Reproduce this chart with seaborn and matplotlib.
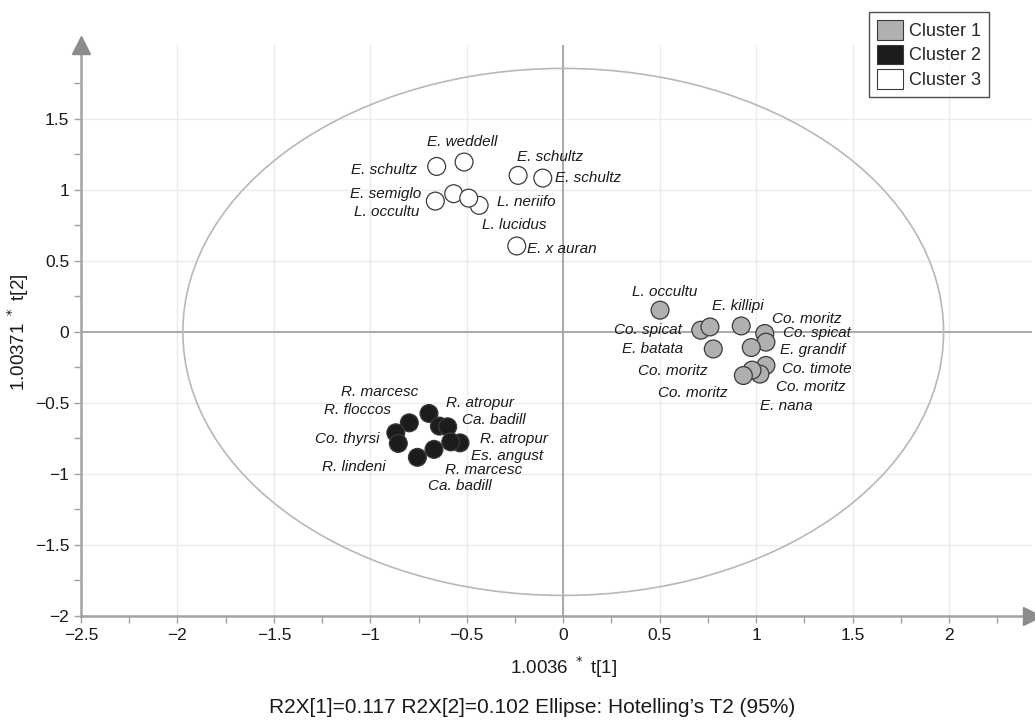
import numpy as np
import pandas as pd
import matplotlib
matplotlib.use("Agg")
import matplotlib.pyplot as plt
import seaborn as sns
from matplotlib.patches import Ellipse, Patch
from matplotlib.ticker import MultipleLocator, FuncFormatter

# score values
cluster1_x = [0.502, 0.713, 0.761, 0.778, 0.923, 1.045, 1.051, 0.975, 1.051, 1.020, 0.979, 0.934]
cluster1_y = [0.153, 0.012, 0.035, -0.120, 0.042, -0.011, -0.072, -0.110, -0.236, -0.297, -0.269, -0.307]
cluster1_names = ["L. occultu", "Co. spicat", "Co. moritz", "E. batata", "E. killipi", "Co. moritz",
                  "Co. spicat", "E. grandif", "Co. timote", "Co. moritz", "Co. moritz", "E. nana"]

cluster2_x = [-0.696, -0.798, -0.868, -0.855, -0.642, -0.599, -0.535, -0.583, -0.670, -0.756]
cluster2_y = [-0.574, -0.640, -0.710, -0.785, -0.663, -0.668, -0.781, -0.774, -0.827, -0.883]
cluster2_names = ["R. marcesc", "R. floccos", "Co. thyrsi", "R. lindeni", "R. atropur", "Ca. badill",
                  "R. atropur", "Es. angust", "R. marcesc", "Ca. badill"]

cluster3_x = [-0.656, -0.514, -0.234, -0.106, -0.568, -0.663, -0.436, -0.490, -0.241]
cluster3_y = [1.165, 1.196, 1.102, 1.083, 0.973, 0.921, 0.891, 0.942, 0.605]
cluster3_names = ["E. schultz", "E. weddell", "E. schultz", "E. schultz", "E. semiglo", "L. occultu",
                  "L. neriifo", "L. lucidus", "E. x auran"]

cluster_names = ["Cluster 1", "Cluster 2", "Cluster 3"]
ellipse_w = 1.972
ellipse_h = 1.855

# label placement (pixel offsets from the point, alignment)
label_layout = [
    (5, 18, "center"), (-19, 0, "right"), (-2, -44, "right"), (-30, 0, "right"),
    (-3, 20, "center"), (7, 14, "left"), (17, 9, "left"), (29, -2, "left"),
    (16, -4, "left"), (16, -13, "left"), (-24, -23, "right"), (17, -30, "left"),
    (-11, 21, "right"), (-18, 13, "right"), (-16, -6, "right"), (-13, -24, "right"),
    (7, 23, "left"), (14, 7, "left"), (20, 4, "left"), (20, -14, "left"),
    (11, -21, "left"), (11, -29, "left"),
    (-20, -4, "right"), (-2, 20, "center"), (-1, 18, "left"), (12, 0, "left"),
    (-32, 0, "right"), (-16, -11, "right"), (18, 3, "left"), (46, -27, "center"),
    (10, -3, "left"),
]

df = pd.DataFrame({
    "t1": cluster1_x + cluster2_x + cluster3_x,
    "t2": cluster1_y + cluster2_y + cluster3_y,
    "name": cluster1_names + cluster2_names + cluster3_names,
    "cluster": [cluster_names[0]] * len(cluster1_x) + [cluster_names[1]] * len(cluster2_x)
               + [cluster_names[2]] * len(cluster3_x),
})

palette = {"Cluster 1": "#b0b0b0", "Cluster 2": "#1c1c1c", "Cluster 3": "#ffffff"}

sns.set_style("white")
plt.rcParams["font.family"] = ["Liberation Sans", "DejaVu Sans"]

fig = plt.figure(figsize=(10.35, 7.22), dpi=100)
ax = fig.add_axes([0.0783, 0.1468, 0.9187, 0.7909])

axis_grey = "#a3a3a3"

# grid, zero lines, ellipse
ax.set_xlim(-2.5, 2.43)
ax.set_ylim(-2, 2.02)
ax.xaxis.set_major_locator(MultipleLocator(0.5))
ax.yaxis.set_major_locator(MultipleLocator(0.5))
ax.xaxis.set_minor_locator(MultipleLocator(0.25))
ax.yaxis.set_minor_locator(MultipleLocator(0.25))
ax.grid(True, which="major", color="#ebebeb", linewidth=1)
ax.axhline(0, color=axis_grey, linewidth=1.3, zorder=1)
ax.axvline(0, color=axis_grey, linewidth=1.3, zorder=1)
ax.add_patch(Ellipse((0, 0), 2 * ellipse_w, 2 * ellipse_h, fill=False,
                     edgecolor="#b8b8b8", linewidth=1.2, zorder=1.5))

sns.scatterplot(data=df, x="t1", y="t2", hue="cluster", palette=palette, s=165,
                edgecolor="#3a3a3a", linewidth=0.9, legend=False, ax=ax, zorder=3)

for (x, y, name), (dx, dy, ha) in zip(df[["t1", "t2", "name"]].values, label_layout):
    ax.annotate(name, (x, y), xytext=(dx, dy), textcoords="offset pixels",
                ha=ha, va="center", fontsize=11, style="italic", color="#1a1a1a", zorder=4)

# axes styling
for side in ["top", "right"]:
    ax.spines[side].set_visible(False)
for side in ["left", "bottom"]:
    ax.spines[side].set_color(axis_grey)
    ax.spines[side].set_linewidth(1.8)
ax.tick_params(which="both", direction="out", length=5, width=1, color=axis_grey,
               labelsize=12.5, labelcolor="#1a1a1a", left=True, bottom=True)
fmt = FuncFormatter(lambda v, p: ("%g" % v).replace("-", "\u2212"))
ax.xaxis.set_major_formatter(fmt)
ax.yaxis.set_major_formatter(fmt)
ax.set_xticks([t for t in np.arange(-2.5, 2.01, 0.5)])
ax.set_yticks([t for t in np.arange(-2, 1.51, 0.5)])

# arrow heads on the axes
ax.plot([0], [1], marker="^", markersize=13, color="#8c8c8c", transform=ax.transAxes,
        clip_on=False, zorder=5)
ax.plot([1], [0], marker=">", markersize=13, color="#8c8c8c", transform=ax.transAxes,
        clip_on=False, zorder=5)

ax.set_xlabel("")
ax.set_ylabel("")
fig.text(0.544, 0.076, "1.0036 $^*$ t[1]", ha="center", va="center", fontsize=13.5, color="#1a1a1a")
fig.text(0.018, 0.54, "1.00371 $^*$ t[2]", ha="center", va="center", rotation=90,
         fontsize=13.5, color="#1a1a1a")
fig.text(0.514, 0.02, "R2X[1]=0.117 R2X[2]=0.102 Ellipse: Hotelling\u2019s T2 (95%)",
         ha="center", va="center", fontsize=15, color="#1a1a1a")

handles = [Patch(facecolor=palette[c], edgecolor="#3a3a3a", linewidth=0.8) for c in cluster_names]
leg = fig.legend(handles, cluster_names, loc="upper right", bbox_to_anchor=(989 / 1035, 1 - 12 / 722),
                 fontsize=13, frameon=True, fancybox=False, edgecolor="#222222",
                 handlelength=1.4, handleheight=1.3, handletextpad=0.35, labelspacing=0.25,
                 borderpad=0.45, borderaxespad=0)
leg.get_frame().set_linewidth(1)

fig.savefig("out.png", dpi=100)
